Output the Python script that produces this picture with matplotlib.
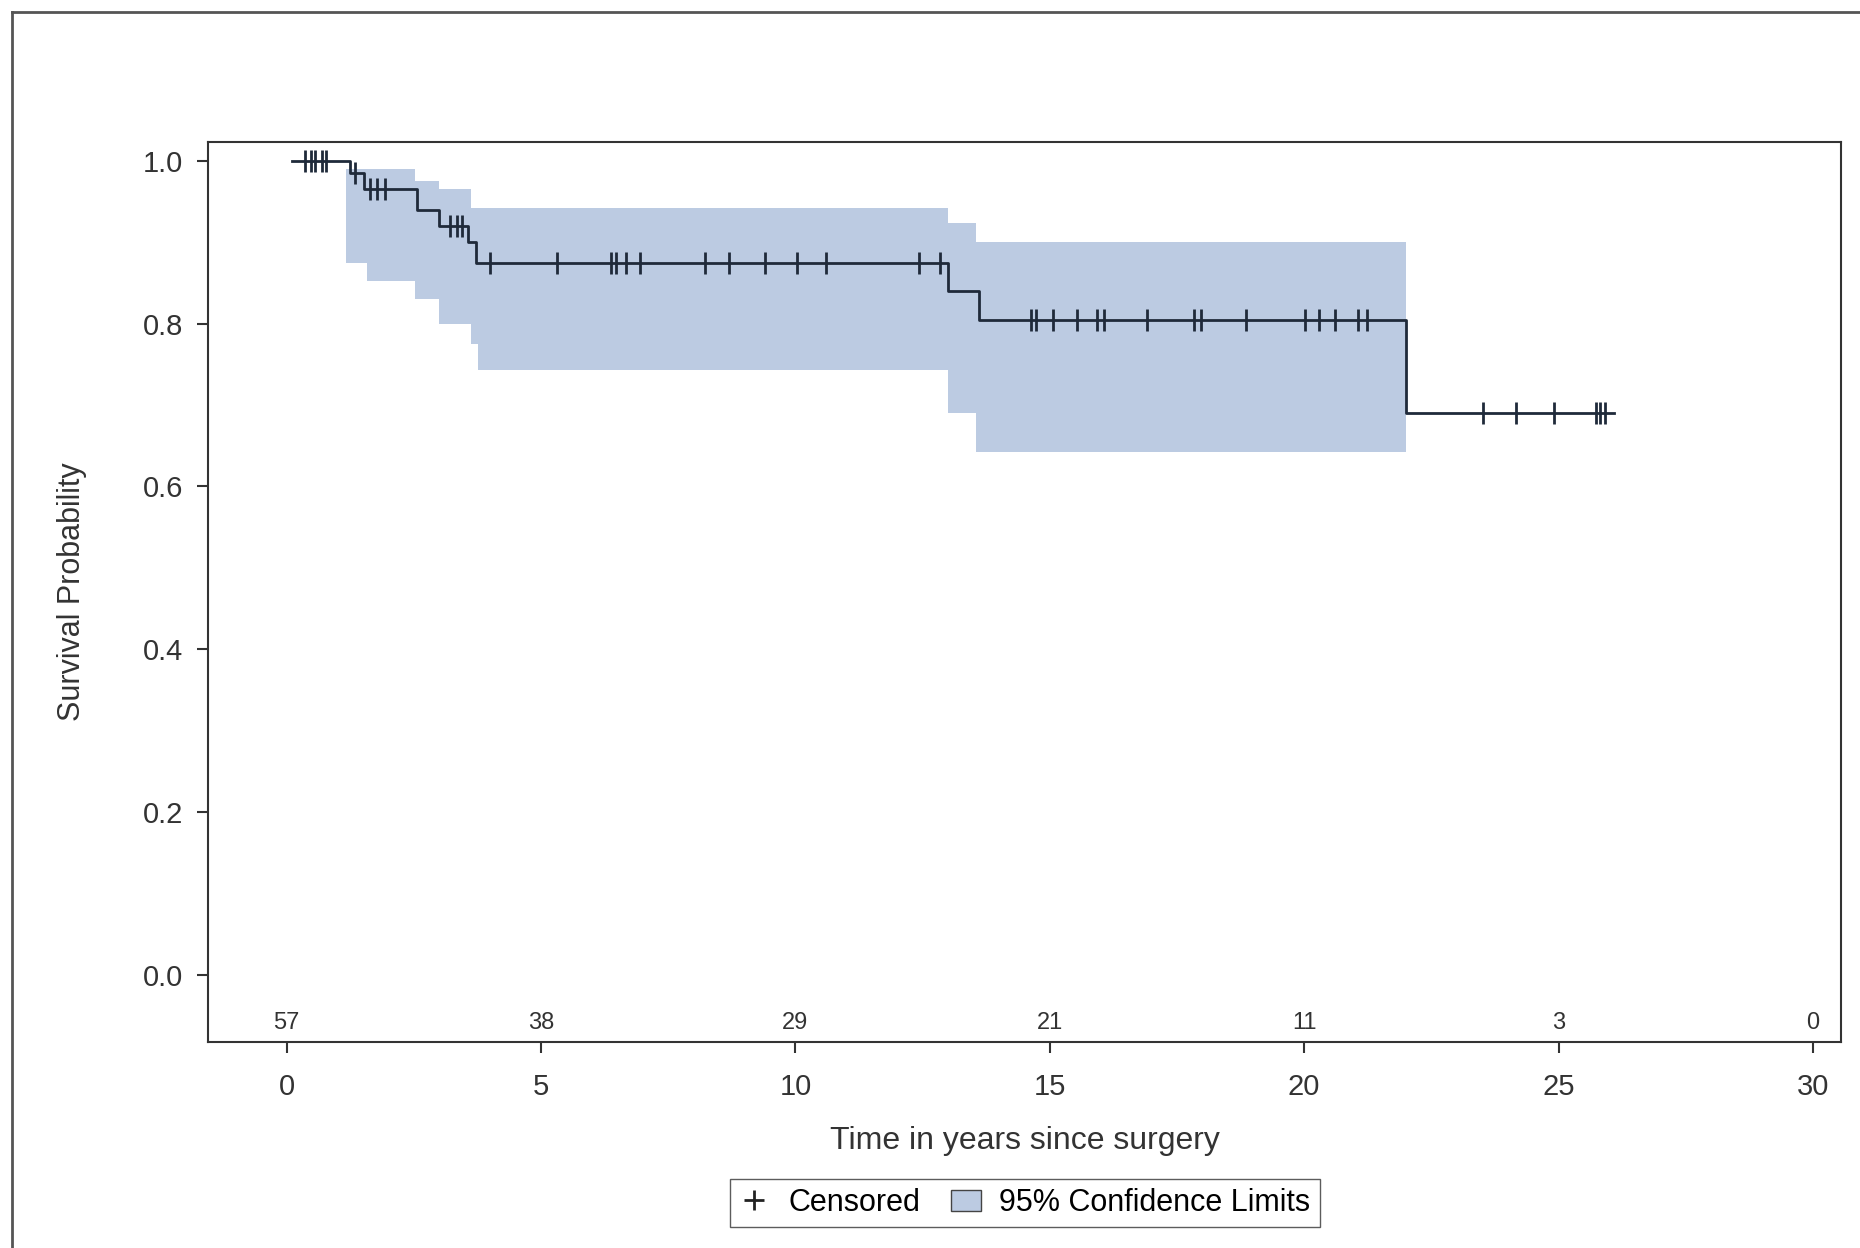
import matplotlib.pyplot as plt
from matplotlib.patches import Rectangle
from matplotlib.lines import Line2D
import numpy as np

plt.rcParams['font.family'] = ['Liberation Sans', 'DejaVu Sans']

# Kaplan-Meier step curve (time, survival after step)
step_t = [0.1, 1.24, 1.52, 2.57, 3.0, 3.57, 3.73, 13.0, 13.6, 22.0, 26.1]
step_s = [1.0, 0.985, 0.965, 0.94, 0.92, 0.90, 0.875, 0.84, 0.805, 0.69, 0.69]

# 95% CI band
ci_t = [1.17, 1.58, 2.52, 2.99, 3.62, 3.77, 13.0, 13.55, 22.0]
ci_hi = [0.99, 0.99, 0.975, 0.965, 0.942, 0.942, 0.924, 0.90, 0.90]
ci_lo = [0.875, 0.853, 0.83, 0.80, 0.775, 0.743, 0.69, 0.642, 0.642]

cens_t = [0.37, 0.47, 0.56, 0.7, 0.77,
          1.35, 1.63, 1.77, 1.94, 3.22, 3.34, 3.45,
          3.99, 5.32, 6.37, 6.48, 6.67, 6.95, 8.23, 8.70, 9.40, 10.03, 10.61, 12.43, 12.85,
          14.63, 14.72, 15.07, 15.54, 15.93, 16.07, 16.91, 17.84, 17.98, 18.85, 20.01,
          20.29, 20.6, 21.06, 21.23,
          23.51, 24.17, 24.91, 25.73, 25.82, 25.92]

risk_t = [0, 5, 10, 15, 20, 25, 30]
risk_n = [57, 38, 29, 21, 11, 3, 0]

fig = plt.figure(figsize=(18.6, 12.48), dpi=100)
ax = fig.add_axes([0.112, 0.165, 0.878, 0.721])

# outer frame
fig.add_artist(Line2D([0.0065, 0.0065], [0, 0.99], color='#555555', lw=2))
fig.add_artist(Line2D([0.0065, 1.0], [0.99, 0.99], color='#555555', lw=2))

ax.fill_between(ci_t + [22.0], ci_lo + [ci_lo[-1]], ci_hi + [ci_hi[-1]], step='post',
                color='#bccbe2', lw=0)
ax.step(step_t, step_s, where='post', color='#1f2a3a', lw=2)

def surv_at(t):
    s = 1.0
    for tt, ss in zip(step_t, step_s):
        if tt <= t:
            s = ss
    return s

ax.plot(cens_t, [surv_at(t) for t in cens_t], ls='none', marker='|', ms=16, mew=2,
        color='#1f2a3a')

for t, n in zip(risk_t, risk_n):
    ax.text(t, -0.06, str(n), ha='center', va='center', fontsize=17, color='#333333')

ax.set_xlim(-1.54, 30.56)
ax.set_ylim(-0.083, 1.023)
ax.set_xticks(range(0, 31, 5))
ax.set_yticks([0, 0.2, 0.4, 0.6, 0.8, 1.0])
ax.set_yticklabels(['0.0', '0.2', '0.4', '0.6', '0.8', '1.0'])
ax.tick_params(labelsize=21, colors='#333333', length=8, width=1.5)
ax.tick_params(axis='x', pad=14)
ax.tick_params(axis='y', pad=10)
for sp in ax.spines.values():
    sp.set_linewidth(1.5)
    sp.set_color('#333333')
ax.set_xlabel('Time in years since surgery', fontsize=23, color='#333333', labelpad=18)
ax.set_ylabel('Survival Probability', fontsize=22, color='#333333', labelpad=40)

h1 = Line2D([], [], ls='none', marker='+', ms=14, mew=2, color='#222222')
h2 = Rectangle((0, 0), 1, 1, facecolor='#bccbe2', edgecolor='#444444')
fig.legend([h1, h2], ['Censored', '95% Confidence Limits'], loc='center',
           bbox_to_anchor=(0.551, 0.036), ncol=2, fontsize=22, frameon=True,
           fancybox=False, edgecolor='#333333', handlelength=1.0, columnspacing=1.0,
           handletextpad=0.6, borderpad=0.3)

fig.savefig('out.png', dpi=100)
